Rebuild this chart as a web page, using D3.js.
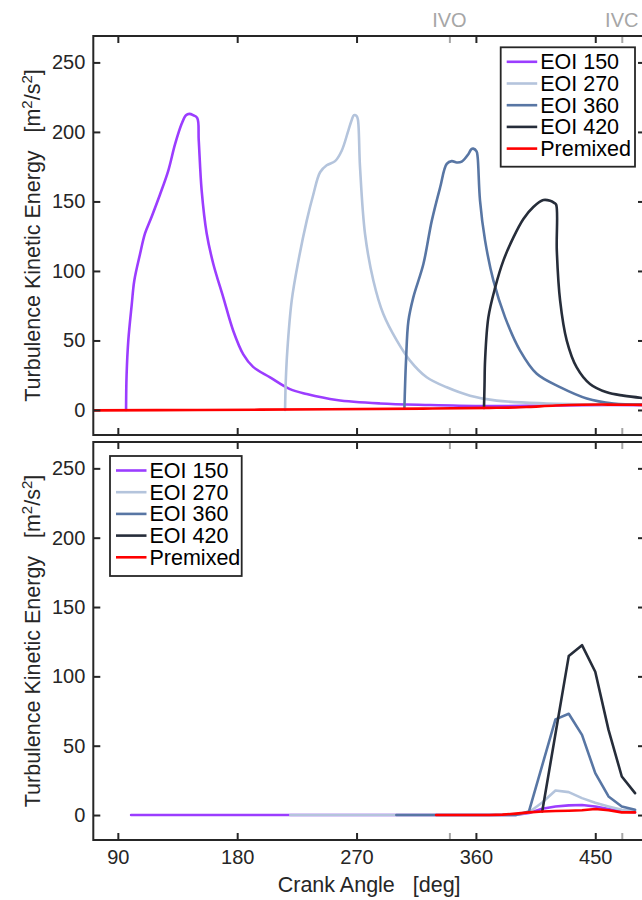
<!DOCTYPE html>
<html>
<head>
<meta charset="utf-8">
<script src="https://cdn.jsdelivr.net/npm/d3@7"></script>
<style>
  html, body { margin: 0; padding: 0; background: #fff; }
  svg { display: block; font-family: "Liberation Sans", Arial, Helvetica, sans-serif; }
</style>
</head>
<body>
<svg id="chart" width="642" height="900"></svg>
<script>
// ---------------- DATA ----------------
const seriesNames = ["EOI 150", "EOI 270", "EOI 360", "EOI 420", "Premixed"];
const seriesColors = ["#9b3dff", "#b4c4dc", "#5876a4", "#262d3a", "#ff0000"];

// Top panel (smooth curves)
const topAng150 = [96.2, 96.6, 97.9, 100.5, 102.4, 106.7, 110.5, 115.5, 121.8, 128, 133.1, 138.2, 141.4, 143.9, 146.9, 149.9, 151, 153.2, 157, 162, 169.5, 177, 184.6, 192, 204.8, 219.8, 232.4, 255, 287.7, 325.4, 363, 400, 440, 490];
const topVal150 = [0, 25, 50, 76, 93, 112, 127, 139, 155, 172, 191, 206, 212, 213, 212, 210, 194, 158, 127, 105, 81, 57, 40, 31, 23.5, 15, 11.5, 7.2, 4.7, 3.6, 2.9, 3, 3.5, 3.5];
const topAng270 = [216.1, 216.6, 217.8, 221.1, 226.1, 232.4, 237.4, 242.5, 247.5, 253.8, 258.8, 263.8, 266.5, 268, 270, 271, 272.6, 276.4, 282.7, 290.2, 300.3, 310.3, 322.9, 338, 355.6, 375.7, 413.4, 450, 490];
const topVal270 = [0, 20, 42.7, 78.6, 107, 136, 155, 171, 176, 179, 186.5, 201, 209, 212, 211.5, 209, 175, 126.6, 93, 69, 50, 35.5, 23.5, 16.3, 10.3, 6.7, 4.7, 4, 4];
const topAng360 = [306.1, 306.5, 307.3, 309.1, 312.8, 320.4, 326.7, 333, 338, 341.8, 345.5, 349.3, 354.3, 356.5, 358, 360.5, 361.3, 363.1, 366.9, 373.2, 382, 393.3, 405.9, 423.8, 443.6, 463.7, 490];
const topVal360 = [1.5, 15, 35.5, 64, 81, 105, 136, 160, 177, 179, 178, 178.6, 184, 187.5, 188, 186, 182, 150.6, 122, 93, 66.6, 42.7, 26, 16.3, 8.3, 4.7, 3.8];
const topAng420 = [366.1, 366.5, 366.9, 369.4, 374.5, 380.7, 388.2, 395.8, 403.3, 410.9, 416, 419, 420.5, 421, 423.5, 428.5, 436, 446, 458.7, 471.2, 490];
const topVal420 = [1.5, 18, 35.5, 66.6, 88, 107.4, 124, 137.4, 146, 151, 150.5, 149, 147.7, 114.6, 78.6, 49.9, 30.6, 18.7, 12.7, 10.3, 8.2];
const topAngPre = [71.5, 150, 250, 320, 370, 390, 400, 420, 440, 455, 470, 490];
const topValPre = [-0.3, 0, 0.5, 1, 1.5, 1.8, 2.2, 3.2, 3.8, 3.9, 3.8, 3.6];

// Bottom panel (coarse, piecewise linear)
const botAng150 = [100, 390, 400, 410, 420, 430, 440, 450, 460, 470, 480];
const botVal150 = [0, 0, 1.5, 4.5, 6.2, 7, 7.2, 6.2, 4.3, 2.6, 2];
const botAng270 = [220, 390, 400, 410, 420, 430, 440, 450, 460, 470, 480];
const botVal270 = [0, 0, 2, 9, 17.7, 16.5, 12.2, 8.8, 6.2, 3.8, 3];
const botAng360 = [300, 390, 400, 420, 430, 440, 450, 460, 470, 480];
const botVal360 = [0, 0, 2.6, 69, 73, 57.8, 30.2, 13.4, 6.2, 3.8];
const botAng420 = [410, 430, 440, 450, 460, 470, 480];
const botVal420 = [2.6, 114.6, 122.5, 103.3, 61.4, 27.8, 15.8];
const botAngPre = [330, 370, 380, 390, 400, 410, 420, 430, 440, 450, 460, 470, 480];
const botValPre = [0, 0, 0.3, 1, 1.9, 2.6, 2.9, 3.1, 3.5, 4.3, 3.5, 1.9, 1.9];

const xTicks = [90, 180, 270, 360, 450];
const yTicks = [0, 50, 100, 150, 200, 250];
const valveAngles = [340, 470];
const valveLabels = ["IVO", "IVC"];
const xLabel = "Crank Angle   [deg]";

// ---------------- LAYOUT ----------------
const svg = d3.select("#chart");
const axisColor = "#262626";
const grayColor = "#a6a6a6";
const left = 93.3, right = 645;
const x = d3.scaleLinear().domain([71.5, 487.5]).range([left, right]);
const panels = [
  { top: 36, bottom: 435, curve: d3.curveCatmullRom.alpha(0.5),
    data: [[topAng150, topVal150], [topAng270, topVal270], [topAng360, topVal360], [topAng420, topVal420], [topAngPre, topValPre]],
    legend: { x: 500.7, y: 47.3, w: 134.3, h: 119.4 }, showX: false, showValve: true },
  { top: 442, bottom: 840, curve: d3.curveLinear,
    data: [[botAng150, botVal150], [botAng270, botVal270], [botAng360, botVal360], [botAng420, botVal420], [botAngPre, botValPre]],
    legend: { x: 110, y: 456, w: 131.7, h: 120 }, showX: true, showValve: false }
];

panels.forEach((p, pi) => {
  const y = d3.scaleLinear().domain([-18, 269]).range([p.bottom, p.top]);
  const g = svg.append("g");
  const clipId = "clip" + pi;
  svg.append("clipPath").attr("id", clipId).append("rect")
    .attr("x", left).attr("y", p.top).attr("width", right - left).attr("height", p.bottom - p.top);

  // lines
  const lg = g.append("g").attr("clip-path", `url(#${clipId})`);
  p.data.forEach((d, i) => {
    const pts = d[0].map((a, k) => [a, d[1][k]]);
    lg.append("path")
      .attr("d", d3.line().x(v => x(v[0])).y(v => y(v[1])).curve(p.curve)(pts))
      .attr("fill", "none").attr("stroke", seriesColors[i])
      .attr("stroke-width", 2.6).attr("stroke-linejoin", "round").attr("stroke-linecap", "round");
  });

  // axes (inward ticks)
  const styleAxis = (sel, color) => {
    sel.select(".domain").remove();
    sel.selectAll(".tick line").attr("stroke", color).attr("stroke-width", 2);
    sel.selectAll(".tick text").attr("fill", axisColor).style("font-size", "20px")
      .style("font-family", '"Liberation Sans", Arial, Helvetica, sans-serif');
  };
  g.append("g").attr("transform", `translate(${left},0)`)
    .call(d3.axisLeft(y).tickValues(yTicks).tickSize(-7).tickPadding(8).tickFormat(d3.format("d")))
    .call(s => styleAxis(s, axisColor));
  g.append("g").attr("transform", `translate(${right},0)`)
    .call(d3.axisRight(y).tickValues(yTicks).tickSize(-7).tickFormat(""))
    .call(s => styleAxis(s, axisColor));
  // gray valve ticks
  g.append("g").attr("transform", `translate(0,${p.bottom})`)
    .call(d3.axisBottom(x).tickValues(valveAngles).tickSize(-7).tickFormat(""))
    .call(s => styleAxis(s, grayColor));
  g.append("g").attr("transform", `translate(0,${p.top})`)
    .call(d3.axisTop(x).tickValues(valveAngles).tickSize(-7).tickFormat(""))
    .call(s => styleAxis(s, grayColor));
  g.append("g").attr("transform", `translate(0,${p.bottom})`)
    .call(d3.axisBottom(x).tickValues(xTicks).tickSize(-7).tickPadding(10).tickFormat(p.showX ? d3.format("d") : ""))
    .call(s => styleAxis(s, axisColor));
  g.append("g").attr("transform", `translate(0,${p.top})`)
    .call(d3.axisTop(x).tickValues(xTicks).tickSize(-7).tickFormat(""))
    .call(s => styleAxis(s, axisColor));

  // box
  g.append("rect").attr("x", left).attr("y", p.top).attr("width", right - left).attr("height", p.bottom - p.top)
    .attr("fill", "none").attr("stroke", axisColor).attr("stroke-width", 2);

  // y label
  const yl = g.append("text")
    .attr("transform", `translate(40,${(p.top + p.bottom) / 2}) rotate(-90)`)
    .attr("text-anchor", "middle").attr("fill", axisColor).style("font-size", "21.5px")
    .style("white-space", "pre");
  yl.append("tspan").text("Turbulence Kinetic Energy   [m");
  yl.append("tspan").attr("dy", -8).style("font-size", "15px").text("2");
  yl.append("tspan").attr("dy", 8).text("/s");
  yl.append("tspan").attr("dy", -8).style("font-size", "15px").text("2");
  yl.append("tspan").attr("dy", 8).text("]");

  // legend
  const L = p.legend;
  const lgd = g.append("g");
  lgd.append("rect").attr("x", L.x).attr("y", L.y).attr("width", L.w).attr("height", L.h)
    .attr("fill", "#fff").attr("stroke", axisColor).attr("stroke-width", 1.8);
  seriesNames.forEach((n, i) => {
    const cy = L.y + 14.5 + i * 21.7;
    lgd.append("line").attr("x1", L.x + 6).attr("x2", L.x + 36.5).attr("y1", cy).attr("y2", cy)
      .attr("stroke", seriesColors[i]).attr("stroke-width", 2.6);
    lgd.append("text").attr("x", L.x + 39.5).attr("y", cy + 7.5).attr("fill", "#000")
      .style("font-size", "21.5px").text(n);
  });

  if (p.showValve) {
    valveAngles.forEach((a, i) => {
      g.append("text").attr("x", x(a)).attr("y", 27).attr("text-anchor", "middle")
        .attr("fill", grayColor).style("font-size", "20px").text(valveLabels[i]);
    });
  }
  if (p.showX) {
    g.append("text").attr("x", (left + right) / 2).attr("y", 892).attr("text-anchor", "middle")
      .attr("fill", axisColor).style("font-size", "21.5px").style("white-space", "pre").text(xLabel);
  }
});
</script>
</body>
</html>
